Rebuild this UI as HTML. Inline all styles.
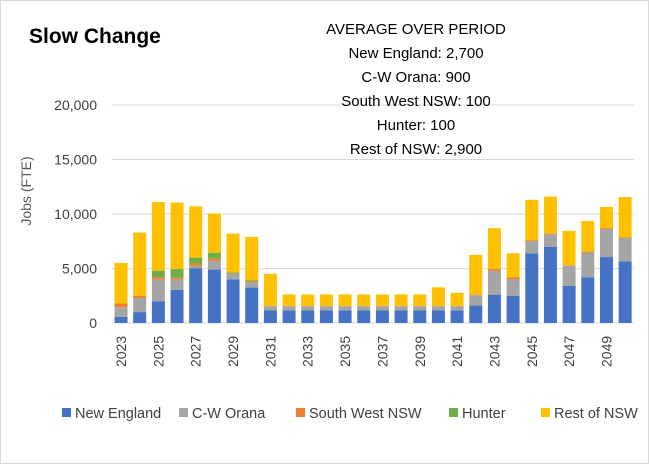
<!DOCTYPE html>
<html><head><meta charset="utf-8"><style>
body{margin:0;background:#fff;font-family:"Liberation Sans",sans-serif}
#wrap{position:relative;width:649px;height:464px;overflow:hidden;border:1px solid #d9d9d9;box-sizing:border-box}
</style></head><body>
<div id="wrap">
<svg id="chart" width="649" height="464"></svg>
</div>
<script>
const years=[2023,2024,2025,2026,2027,2028,2029,2030,2031,2032,2033,2034,2035,2036,2037,2038,2039,2040,2041,2042,2043,2044,2045,2046,2047,2048,2049,2050];
const newEngland=[0.55,1.0,2.0,3.05,5.0,4.9,4.0,3.25,1.15,1.15,1.15,1.15,1.15,1.15,1.15,1.15,1.15,1.15,1.15,1.6,2.6,2.5,6.4,7.0,3.4,4.2,6.05,5.65];
const cwOrana=[0.9,1.3,2.0,0.95,0.25,0.8,0.5,0.5,0.4,0.4,0.4,0.4,0.4,0.4,0.4,0.4,0.4,0.4,0.4,0.95,2.2,1.5,1.1,1.15,1.85,2.25,2.55,2.15];
const southWest=[0.35,0.2,0.2,0.15,0.2,0.2,0.05,0.05,0.02,0.02,0.02,0.02,0.02,0.02,0.02,0.02,0.02,0.02,0.02,0.05,0.15,0.2,0.1,0.05,0.05,0.1,0.1,0.05];
const hunter=[0,0,0.6,0.8,0.55,0.55,0.1,0.1,0,0,0,0,0,0,0,0,0,0,0,0,0,0,0,0,0,0,0,0];
const restNSW=[3.7,5.8,6.3,6.1,4.7,3.6,3.55,4.0,2.95,1.05,1.05,1.05,1.05,1.05,1.05,1.05,1.05,1.7,1.2,3.65,3.75,2.2,3.7,3.4,3.15,2.8,1.95,3.7];
const yTicks=[0,5000,10000,15000,20000];
const yTickLabels=["0","5,000","10,000","15,000","20,000"];
const seriesNames=["New England","C-W Orana","South West NSW","Hunter","Rest of NSW"];
const seriesColors=["#4472c4","#a5a5a5","#ed7d31","#70ad47","#ffc000"];
const NS="http://www.w3.org/2000/svg";
const svg=document.getElementById('chart');
const left=110.7,band=18.67,bw=13,y0=322,pxPer1000=10.9;
const x=i=>left+i*band;
const y=v=>y0-v/1000*pxPer1000;
function mk(t,a,p){const e=document.createElementNS(NS,t);for(const k in a)e.setAttribute(k,a[k]);(p||svg).appendChild(e);return e;}
yTicks.forEach((v,i)=>{
  const g=mk('line',{x1:left,x2:left+28*band,y1:y(v),y2:y(v),stroke:'#d9d9d9','stroke-width':1});
  
  
  const t=mk('text',{x:96,y:y(v)+5,'text-anchor':'end','font-size':14,fill:'#404040'});
  t.textContent=yTickLabels[i];
  
  
});
const series=[newEngland,cwOrana,southWest,hunter,restNSW];
years.forEach((yr,i)=>{
  let cum=0;
  series.forEach((s,k)=>{
    const v=s[i]*1000;if(v<=0)return;
    const r=mk('rect',{x:x(i)+(band-bw)/2,y:y(cum+v),width:bw,height:y(cum)-y(cum+v),fill:seriesColors[k]});
    
    
    cum+=v;
  });
  if(i%2===0){
    const cx=x(i)+band/2+5;
    const t=mk('text',{x:cx,y:366,'font-size':14,fill:'#404040',transform:`rotate(-90 ${cx} 366)`});
    t.textContent=yr;
    
    
  }
});
let t=mk('text',{x:28,y:42,'font-size':21,'font-weight':'bold',fill:'#000'});t.textContent='Slow Change';


t=mk('text',{x:30,y:190,'font-size':14,fill:'#595959','text-anchor':'middle',transform:'rotate(-90 30 190)'});t.textContent='Jobs (FTE)';


const ann=["AVERAGE OVER PERIOD","New England: 2,700","C-W Orana: 900","South West NSW: 100","Hunter: 100","Rest of NSW: 2,900"];
ann.forEach((s,i)=>{const e=mk('text',{x:415,y:33+i*24,'font-size':15,'text-anchor':'middle',fill:'#000'});e.textContent=s;

});
const lx=[61,178,295,448,540];
seriesNames.forEach((n,k)=>{
  const r=mk('rect',{x:lx[k],y:407,width:9,height:9,fill:seriesColors[k]});
  
  
  const e=mk('text',{x:lx[k]+13,y:417,'font-size':14.5,fill:'#404040'});e.textContent=n;
  
  
});
</script>
</body></html>
